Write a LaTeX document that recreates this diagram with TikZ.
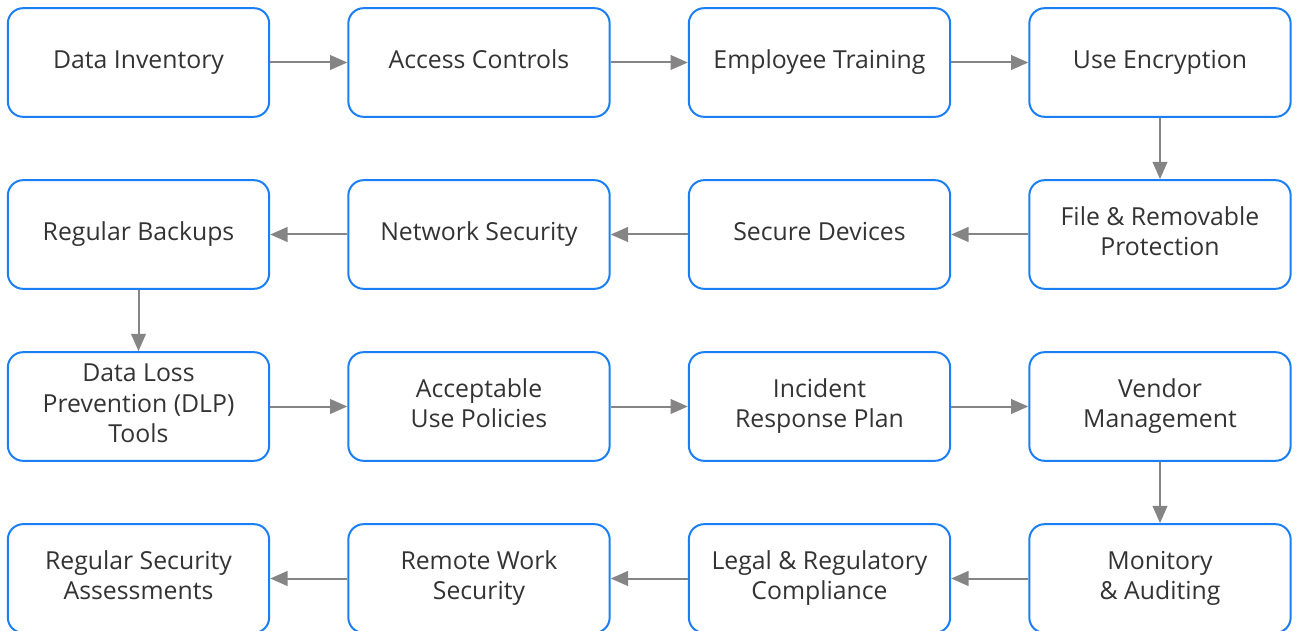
\documentclass[tikz,border=0pt]{standalone}
\usepackage{fontspec}
\setmainfont{Open Sans}
\usetikzlibrary{arrows.meta}
\definecolor{boxblue}{HTML}{1A7FF5}
\definecolor{arrowgray}{HTML}{858585}
\definecolor{textgray}{HTML}{333333}
% a strut that centres the cap height of a line on the node centre
\newcommand{\capstrut}{\rule[-5pt]{0pt}{19.4pt}}
\begin{document}
\begin{tikzpicture}[x=0.75pt,y=-0.75pt,
  stepbox/.style={draw=boxblue, line width=1.5pt, rounded corners=11.5pt,
    minimum width=196pt, minimum height=81.5pt, align=center,
    text=textgray, font=\fontsize{18.6pt}{22.6pt}\selectfont, inner sep=0pt,
    execute at begin node=\capstrut, execute at end node=\capstrut},
  flow/.style={draw=arrowgray, line width=1.5pt,
    -{Triangle[length=13pt,width=11pt]}}]
\useasboundingbox (0,0) rectangle (1297,631);
% grid of steps: columns at 138.5 + 340.5k, rows at 62.5 + 172k
\node[stepbox] (a1) at (138.5,62.5) {Data Inventory};
\node[stepbox] (a2) at (479,62.5) {Access Controls};
\node[stepbox] (a3) at (819.5,62.5) {Employee Training};
\node[stepbox] (a4) at (1160,62.5) {Use Encryption};
\node[stepbox] (b4) at (1160,234.5) {File \& Removable\\Protection};
\node[stepbox] (b3) at (819.5,234.5) {Secure Devices};
\node[stepbox] (b2) at (479,234.5) {Network Security};
\node[stepbox] (b1) at (138.5,234.5) {Regular Backups};
\node[stepbox] (c1) at (138.5,406.5) {Data Loss\\Prevention (DLP)\\Tools};
\node[stepbox] (c2) at (479,406.5) {Acceptable\\Use Policies};
\node[stepbox] (c3) at (819.5,406.5) {Incident\\Response Plan};
\node[stepbox] (c4) at (1160,406.5) {Vendor\\Management};
\node[stepbox] (d4) at (1160,578.5) {Monitory\\\& Auditing};
\node[stepbox] (d3) at (819.5,578.5) {Legal \& Regulatory\\Compliance};
\node[stepbox] (d2) at (479,578.5) {Remote Work\\Security};
\node[stepbox] (d1) at (138.5,578.5) {Regular Security\\Assessments};
% connectors
\draw[flow] (a1) -- (a2);
\draw[flow] (a2) -- (a3);
\draw[flow] (a3) -- (a4);
\draw[flow] (a4) -- (b4);
\draw[flow] (b4) -- (b3);
\draw[flow] (b3) -- (b2);
\draw[flow] (b2) -- (b1);
\draw[flow] (b1) -- (c1);
\draw[flow] (c1) -- (c2);
\draw[flow] (c2) -- (c3);
\draw[flow] (c3) -- (c4);
\draw[flow] (c4) -- (d4);
\draw[flow] (d4) -- (d3);
\draw[flow] (d3) -- (d2);
\draw[flow] (d2) -- (d1);
\end{tikzpicture}
\end{document}
